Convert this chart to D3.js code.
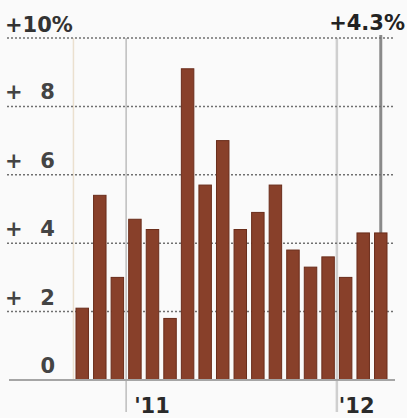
<!DOCTYPE html>
<html>
<head>
<meta charset="utf-8">
<script src="https://cdn.jsdelivr.net/npm/d3@7"></script>
<style>
  html, body { margin: 0; padding: 0; background: #fafafa; }
  svg { display: block; }
  text { font-family: "DejaVu Sans", sans-serif; font-weight: bold; }
</style>
</head>
<body>
<svg id="chart" width="407" height="418"></svg>
<script>
// Monthly change, Oct 2010 – Mar 2012 (percent)
const months = ["2010-10","2010-11","2010-12","2011-01","2011-02","2011-03","2011-04","2011-05","2011-06",
                "2011-07","2011-08","2011-09","2011-10","2011-11","2011-12","2012-01","2012-02","2012-03"];
const values = [2.1, 5.4, 3.0, 4.7, 4.4, 1.8, 9.1, 5.7, 7.0, 4.4, 4.9, 5.7, 3.8, 3.3, 3.6, 3.0, 4.3, 4.3];
const yTicks = [0, 2, 4, 6, 8, 10];
const yearMarks = [{month: "2011-01", label: "'11", dx: 8}, {month: "2012-01", label: "'12", dx: 2}];
const latestLabel = "+4.3%";

const svg = d3.select("#chart");

const x = d3.scaleBand()
  .domain(months)
  .range([73.45, 389.55])
  .paddingInner(0.29)
  .paddingOuter(0.145);

const y = d3.scaleLinear().domain([0, 10]).range([380, 38]);

const gap = x.step() * x.paddingInner() / 2;
const monthStart = m => x(m) - gap;

// faint marker where the series begins
svg.append("line")
  .attr("x1", monthStart(months[0])).attr("x2", monthStart(months[0]))
  .attr("y1", y(10)).attr("y2", y(0))
  .attr("stroke", "#ebe0cf").attr("stroke-width", 1.5);

// year dividers with tick extending below the baseline
yearMarks.forEach((ym, i) => {
  const xx = monthStart(ym.month);
  svg.append("line")
    .attr("x1", xx).attr("x2", xx)
    .attr("y1", y(10)).attr("y2", 412)
    .attr("stroke", i === 0 ? "#bdbdbd" : "#cfcfcf")
    .attr("stroke-width", i === 0 ? 1.5 : 2.5);
  svg.append("text")
    .attr("x", xx + ym.dx).attr("y", 413)
    .attr("font-size", 21).attr("fill", "#2a2a2a")
    .text(ym.label);
});

// latest-value marker
const last = months[months.length - 1];
const lastX = x(last) + x.bandwidth() / 2;
svg.append("line")
  .attr("x1", lastX).attr("x2", lastX)
  .attr("y1", 35).attr("y2", y(0))
  .attr("stroke", "#8a8a8a").attr("stroke-width", 3);

// dotted gridlines
svg.append("g").selectAll("line")
  .data(yTicks.filter(t => t > 0))
  .join("line")
  .attr("x1", 7).attr("x2", 395)
  .attr("y1", d => y(d)).attr("y2", d => y(d))
  .attr("stroke", "#707070").attr("stroke-width", 1.5)
  .attr("stroke-dasharray", "2,2");

// bars
svg.append("g").selectAll("rect")
  .data(values)
  .join("rect")
  .attr("x", (d, i) => x(months[i]))
  .attr("width", x.bandwidth())
  .attr("y", d => y(d))
  .attr("height", d => y(0) - y(d))
  .attr("fill", "#88402a")
  .attr("stroke", "#6a2d1b")
  .attr("stroke-width", 1);

// baseline
svg.append("line")
  .attr("x1", 9).attr("x2", 395)
  .attr("y1", y(0)).attr("y2", y(0))
  .attr("stroke", "#a5a5a5").attr("stroke-width", 2);

// y labels
const yl = svg.append("g");
yTicks.forEach(t => {
  if (t === 10) {
    yl.append("text")
      .attr("x", 5).attr("y", y(t) - 6)
      .attr("font-size", 21).attr("fill", "#333")
      .text("+10%");
  } else {
    const tx = yl.append("text").attr("font-size", 21).attr("fill", "#444");
    if (t > 0) {
      tx.append("tspan").attr("x", 5).attr("y", y(t) - 7).text("+");
      tx.append("tspan").attr("x", 55).attr("y", y(t) - 7).attr("text-anchor", "end").text(" " + t);
    } else {
      tx.append("tspan").attr("x", 55).attr("y", y(t) - 7).attr("text-anchor", "end").text(t);
    }
  }
});

// latest value label
svg.append("text")
  .attr("x", 405).attr("y", 30)
  .attr("text-anchor", "end")
  .attr("font-size", 21).attr("fill", "#222")
  .text(latestLabel);
</script>
</body>
</html>
